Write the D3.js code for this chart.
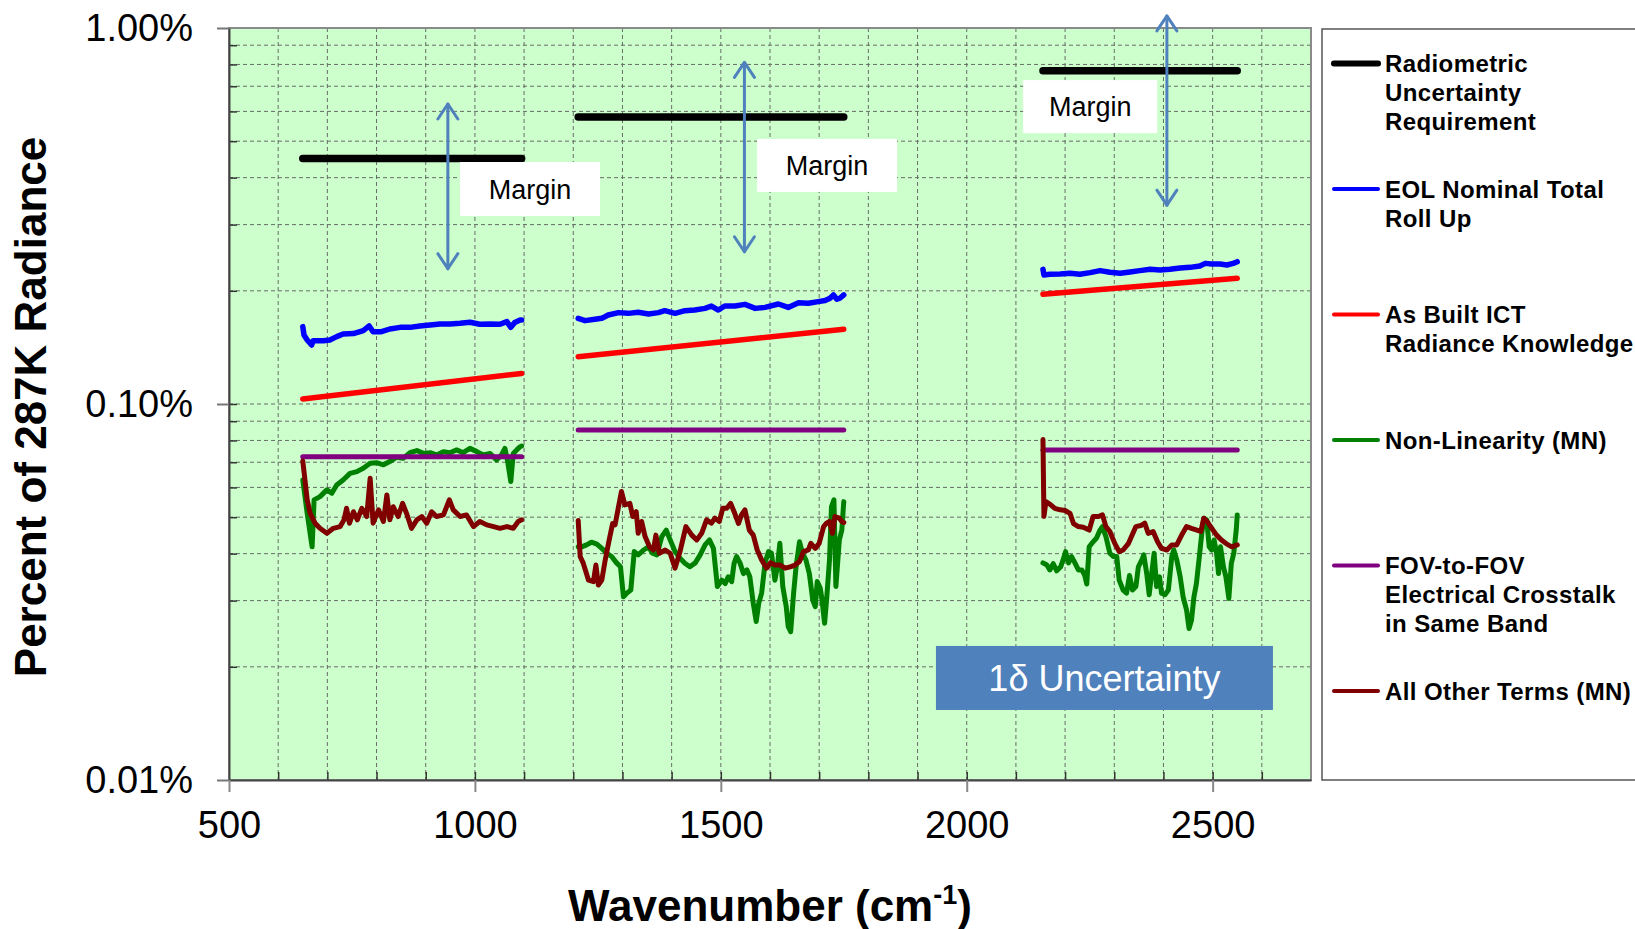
<!DOCTYPE html>
<html>
<head>
<meta charset="utf-8">
<script src="https://cdn.jsdelivr.net/npm/d3@7"></script>
<style>
  html, body { margin: 0; padding: 0; background: #fff; overflow: hidden; }
  svg { display: block; font-family: "Liberation Sans", Arial, Helvetica, sans-serif; }
</style>
</head>
<body>
<svg id="chart" width="1635" height="929"></svg>
<script>
// ---- Axis ticks ----
const xTickValues = [500, 1000, 1500, 2000, 2500];
const yTickValues = [0.01, 0.1, 1];
const yTickLabels = ["0.01%", "0.10%", "1.00%"];

// ---- Series (wavenumber cm-1, percent of 287K radiance), one segment per band ----
const requirement = [
  [[650, 0.45], [1095, 0.45]],
  [[1210, 0.58], [1750, 0.58]],
  [[2155, 0.77], [2550, 0.77]]
];

const rollUp = [
  [[650,0.1606],[652.5,0.1526],[659,0.1480],[668,0.1435],[671,0.1474],[692,0.1474],[705,0.1480],[719,0.1511],
   [732,0.1536],[753,0.1539],[773,0.1567],[785,0.1613],[793,0.1557],[810,0.1557],[827,0.1583],[848,0.1599],
   [868,0.1599],[888,0.1613],[909,0.1623],[929,0.1633],[949,0.1633],[970,0.1640],[990,0.1650],[1010,0.1630],
   [1031,0.1633],[1051,0.1630],[1065,0.1656],[1073,0.1599],[1081,0.1648],[1092,0.1673],[1095,0.1673]],
  [[1210,0.1690],[1224,0.1666],[1244,0.1680],[1258,0.1690],[1271,0.1725],[1292,0.1750],[1312,0.1742],[1332,0.1753],
   [1353,0.1736],[1373,0.1750],[1386,0.1771],[1407,0.1742],[1427,0.1771],[1447,0.1778],[1468,0.1796],[1481,0.1822],
   [1495,0.1778],[1508,0.1822],[1529,0.1822],[1549,0.1841],[1570,0.1796],[1590,0.1807],[1617,0.1845],[1637,0.1807],
   [1658,0.1860],[1678,0.1853],[1698,0.1872],[1712,0.1884],[1722,0.1911],[1729,0.1950],[1736,0.1899],[1742,0.1911],
   [1750,0.1950]],
  [[2155,0.2281],[2157,0.2204],[2169,0.2213],[2190,0.2218],[2210,0.2226],[2230,0.2213],[2251,0.2236],[2271,0.2263],
   [2291,0.2240],[2312,0.2226],[2332,0.2245],[2352,0.2263],[2373,0.2281],[2393,0.2272],[2413,0.2281],[2434,0.2300],
   [2454,0.2309],[2474,0.2328],[2485,0.2366],[2498,0.2357],[2515,0.2357],[2529,0.2343],[2542,0.2366],[2550,0.2390]]
];

const ictKnowledge = [
  [[650, 0.1031], [1095, 0.1206]],
  [[1210, 0.1335], [1750, 0.1580]],
  [[2155, 0.1957], [2550, 0.2159]]
];

const nonLinearity = [
  [[650,0.0628],[659,0.0512],[669,0.0417],[673,0.0556],[685,0.0567],[699,0.0591],[709,0.0579],[719,0.0609],
   [732,0.0628],[746,0.0654],[760,0.0661],[773,0.0675],[787,0.0696],[800,0.0698],[814,0.0689],[827,0.0703],
   [841,0.0722],[854,0.0717],[868,0.0742],[882,0.0752],[895,0.0739],[909,0.0742],[922,0.0732],[936,0.0747],
   [949,0.0742],[963,0.0755],[976,0.0742],[990,0.0762],[1004,0.0747],[1017,0.0732],[1031,0.0739],[1044,0.0710],
   [1054,0.0732],[1061,0.0762],[1066,0.0710],[1073,0.0622],[1078,0.0739],[1085,0.0755],[1092,0.0770],[1095,0.0773]],
  [[1210,0.0417],[1217,0.0417],[1227,0.0422],[1237,0.0429],[1248,0.0424],[1258,0.0413],[1268,0.0401],[1278,0.0393],
   [1288,0.0378],[1296,0.0369],[1302,0.0307],[1309,0.0314],[1317,0.0320],[1324,0.0405],[1332,0.0397],[1343,0.0409],
   [1353,0.0417],[1361,0.0401],[1370,0.0397],[1380,0.0444],[1389,0.0462],[1397,0.0435],[1407,0.0405],[1417,0.0389],
   [1427,0.0377],[1437,0.0369],[1448,0.0378],[1458,0.0397],[1468,0.0422],[1477,0.0435],[1485,0.0413],[1493,0.0327],
   [1502,0.0340],[1509,0.0333],[1515,0.0347],[1522,0.0337],[1527,0.0377],[1532,0.0393],[1539,0.0378],[1546,0.0354],
   [1553,0.0362],[1559,0.0347],[1566,0.0295],[1572,0.0264],[1577,0.0295],[1583,0.0314],[1590,0.0378],[1597,0.0405],
   [1603,0.0401],[1610,0.0340],[1615,0.0369],[1620,0.0426],[1626,0.0327],[1633,0.0289],[1637,0.0256],[1642,0.0248],
   [1648,0.0314],[1653,0.0369],[1660,0.0430],[1666,0.0401],[1673,0.0385],[1680,0.0354],[1687,0.0301],[1692,0.0289],
   [1696,0.0337],[1702,0.0324],[1705,0.0307],[1711,0.0261],[1715,0.0301],[1721,0.0385],[1725,0.0533],[1730,0.0556],
   [1734,0.0327],[1741,0.0435],[1746,0.0462],[1750,0.0550]],
  [[2155,0.0378],[2163,0.0373],[2169,0.0362],[2176,0.0376],[2183,0.0360],[2191,0.0369],[2196,0.0385],[2201,0.0405],
   [2207,0.0378],[2213,0.0393],[2220,0.0378],[2227,0.0362],[2234,0.0362],[2240,0.0350],[2244,0.0332],[2249,0.0417],
   [2257,0.0430],[2264,0.0440],[2271,0.0462],[2276,0.0472],[2283,0.0444],[2291,0.0401],[2298,0.0393],[2305,0.0393],
   [2310,0.0340],[2318,0.0320],[2325,0.0314],[2331,0.0350],[2337,0.0320],[2344,0.0327],[2349,0.0369],[2356,0.0385],
   [2360,0.0397],[2366,0.0354],[2371,0.0311],[2376,0.0354],[2381,0.0401],[2386,0.0327],[2392,0.0347],[2396,0.0314],
   [2403,0.0311],[2410,0.0320],[2417,0.0393],[2421,0.0409],[2427,0.0385],[2434,0.0347],[2440,0.0307],[2447,0.0283],
   [2452,0.0253],[2457,0.0266],[2462,0.0307],[2467,0.0333],[2473,0.0393],[2478,0.0453],[2482,0.0497],[2488,0.0492],
   [2493,0.0417],[2498,0.0409],[2503,0.0435],[2508,0.0401],[2512,0.0354],[2516,0.0417],[2522,0.0369],[2527,0.0347],
   [2533,0.0304],[2538,0.0377],[2543,0.0401],[2548,0.0462],[2550,0.0507]]
];

const crosstalk = [
  [[650, 0.0724], [1095, 0.0724]],
  [[1210, 0.0853], [1750, 0.0853]],
  [[2155, 0.0755], [2550, 0.0755]]
];

const otherTerms = [
  [[650,0.0705],[654.5,0.0628],[659,0.0556],[665,0.0512],[675,0.0482],[685,0.0467],[699,0.0453],[712,0.0467],
   [726,0.0472],[734,0.0492],[739,0.0528],[745,0.0482],[753,0.0517],[761,0.0492],[770,0.0528],[780,0.0502],
   [787,0.0635],[793,0.0482],[804,0.0523],[814,0.0487],[821,0.0573],[827,0.0492],[834,0.0533],[844,0.0502],
   [853,0.0544],[861,0.0512],[871,0.0467],[882,0.0492],[892,0.0502],[902,0.0482],[912,0.0517],[922,0.0502],
   [936,0.0507],[948,0.0556],[956,0.0523],[970,0.0502],[983,0.0507],[997,0.0472],[1010,0.0487],[1024,0.0477],
   [1038,0.0472],[1051,0.0467],[1065,0.0472],[1078,0.0467],[1088,0.0487],[1095,0.0492]],
  [[1210,0.0490],[1214,0.0393],[1220,0.0378],[1231,0.0340],[1241,0.0337],[1246,0.0373],[1251,0.0330],[1258,0.0340],
   [1265,0.0385],[1273,0.0435],[1280,0.0481],[1285,0.0477],[1292,0.0533],[1298,0.0585],[1305,0.0539],[1315,0.0544],
   [1321,0.0502],[1328,0.0517],[1332,0.0453],[1339,0.0487],[1346,0.0444],[1355,0.0417],[1363,0.0409],[1368,0.0448],
   [1375,0.0401],[1387,0.0409],[1397,0.0401],[1407,0.0366],[1417,0.0405],[1429,0.0472],[1441,0.0448],[1451,0.0435],
   [1461,0.0453],[1471,0.0492],[1481,0.0482],[1488,0.0497],[1497,0.0487],[1504,0.0528],[1512,0.0528],[1520,0.0544],
   [1527,0.0517],[1536,0.0481],[1542,0.0507],[1549,0.0523],[1558,0.0462],[1566,0.0448],[1574,0.0409],[1583,0.0385],
   [1593,0.0366],[1601,0.0378],[1610,0.0373],[1620,0.0373],[1631,0.0366],[1641,0.0369],[1651,0.0373],[1660,0.0381],
   [1668,0.0405],[1678,0.0409],[1683,0.0426],[1692,0.0413],[1700,0.0426],[1709,0.0472],[1715,0.0482],[1721,0.0487],
   [1727,0.0453],[1732,0.0502],[1741,0.0497],[1746,0.0487],[1750,0.0484]],
  [[2155,0.0805],[2157,0.0502],[2161,0.0550],[2169,0.0542],[2179,0.0528],[2190,0.0523],[2200,0.0521],[2210,0.0512],
   [2217,0.0481],[2227,0.0472],[2237,0.0470],[2249,0.0462],[2257,0.0502],[2268,0.0502],[2276,0.0507],[2283,0.0472],
   [2291,0.0458],[2301,0.0426],[2310,0.0405],[2318,0.0409],[2329,0.0426],[2335,0.0444],[2344,0.0472],[2354,0.0475],
   [2362,0.0482],[2369,0.0453],[2379,0.0458],[2388,0.0430],[2396,0.0413],[2407,0.0409],[2417,0.0422],[2427,0.0422],
   [2437,0.0448],[2447,0.0472],[2457,0.0467],[2468,0.0462],[2476,0.0458],[2482,0.0497],[2489,0.0487],[2498,0.0467],
   [2508,0.0448],[2518,0.0435],[2529,0.0424],[2539,0.0417],[2550,0.0422]]
];

// ---- Legend ----
const legendLabels = [
  ["Radiometric", "Uncertainty", "Requirement"],
  ["EOL Nominal Total", "Roll Up"],
  ["As Built ICT", "Radiance Knowledge"],
  ["Non-Linearity (MN)"],
  ["FOV-to-FOV", "Electrical Crosstalk", "in Same Band"],
  ["All Other Terms (MN)"]
];
const seriesColors = ["#000000", "#0000ff", "#ff0000", "#008000", "#800080", "#800000"];
const seriesWidths = [7.5, 5.5, 5.5, 5, 5, 5];
const seriesData = [requirement, rollUp, ictKnowledge, nonLinearity, crosstalk, otherTerms];

// ---- Margin annotations: double arrow span and label centre (wavenumber, percent) ----
const marginArrows = [
  { x: 945,  top: 0.628, bottom: 0.229 },
  { x: 1548, top: 0.81,  bottom: 0.254 },
  { x: 2407, top: 1.077, bottom: 0.338 }
];
const marginLabels = [
  { x: 1112, v: 0.373, w: 140, h: 54 },
  { x: 1716, v: 0.431, w: 140, h: 53 },
  { x: 2251, v: 0.618, w: 134, h: 53 }
];
const uncertaintyBox = { x: 2280, v: 0.01868, w: 337, h: 64, text: "1δ Uncertainty" };

// ---- Layout ----
const plot = { left: 229, right: 1311, top: 28, bottom: 780 };
const svg = d3.select("#chart");

const x = d3.scaleLinear().domain([500, 2700]).range([plot.left, plot.right]);
const y = d3.scaleLog().domain([0.01, 1]).range([plot.bottom, plot.top]);

// plot background
svg.append("rect")
  .attr("x", plot.left).attr("y", plot.top)
  .attr("width", plot.right - plot.left).attr("height", plot.bottom - plot.top)
  .attr("fill", "#ccffcc");

// grid
const xGrid = d3.range(600, 2700, 100);
const yGrid = [];
[0.01, 0.1].forEach(dec => { for (let k = 1; k <= 9; k++) if (!(dec === 0.01 && k === 1)) yGrid.push(dec * k); });

const grid = svg.append("g").attr("stroke", "#555").attr("stroke-width", 1)
  .attr("stroke-dasharray", "4,3").attr("opacity", 0.85);
grid.selectAll("line.v").data(xGrid).join("line").attr("class", "v")
  .attr("x1", d => x(d)).attr("x2", d => x(d))
  .attr("y1", plot.top).attr("y2", plot.bottom);
grid.selectAll("line.h").data(yGrid).join("line").attr("class", "h")
  .attr("x1", plot.left).attr("x2", plot.right)
  .attr("y1", d => y(d)).attr("y2", d => y(d));

// plot frame
svg.append("rect")
  .attr("x", plot.left).attr("y", plot.top)
  .attr("width", plot.right - plot.left).attr("height", plot.bottom - plot.top)
  .attr("fill", "none").attr("stroke", "#8a8a8a").attr("stroke-width", 2);

// minor ticks inside the plot
const yMinorAxis = d3.axisRight(y).tickValues(yGrid).tickSize(8).tickFormat("");
svg.append("g").attr("transform", `translate(${plot.left},0)`).call(yMinorAxis)
  .call(g => g.select(".domain").remove())
  .selectAll("line").attr("stroke", "#333").attr("stroke-width", 1.5);
const xMinorAxis = d3.axisTop(x).tickValues(xGrid).tickSize(8).tickFormat("");
svg.append("g").attr("transform", `translate(0,${plot.bottom})`).call(xMinorAxis)
  .call(g => g.select(".domain").remove())
  .selectAll("line").attr("stroke", "#333").attr("stroke-width", 1.5);

// main axes
const yAxis = d3.axisLeft(y).tickValues(yTickValues)
  .tickFormat((d, i) => yTickLabels[i]).tickSizeInner(12).tickSizeOuter(0).tickPadding(24);
const yAxisG = svg.append("g").attr("transform", `translate(${plot.left},0)`).call(yAxis);
yAxisG.select(".domain").attr("stroke", "#444").attr("stroke-width", 2);
yAxisG.selectAll(".tick line").attr("stroke", "#777").attr("stroke-width", 2);
yAxisG.selectAll(".tick text").attr("font-size", 38).attr("fill", "#000")
  .attr("font-family", "'Liberation Sans', Arial, sans-serif");

const xAxis = d3.axisBottom(x).tickValues(xTickValues).tickFormat(d3.format("d"))
  .tickSizeInner(12).tickSizeOuter(0).tickPadding(19);
const xAxisG = svg.append("g").attr("transform", `translate(0,${plot.bottom})`).call(xAxis);
xAxisG.select(".domain").attr("stroke", "#444").attr("stroke-width", 2);
xAxisG.selectAll(".tick line").attr("stroke", "#888").attr("stroke-width", 2);
xAxisG.selectAll(".tick text").attr("font-size", 38).attr("fill", "#000")
  .attr("font-family", "'Liberation Sans', Arial, sans-serif");

// series
const line = d3.line().x(d => x(d[0])).y(d => y(d[1]));
seriesData.forEach((segments, si) => {
  svg.append("g").selectAll("path").data(segments).join("path")
    .attr("d", line)
    .attr("fill", "none")
    .attr("stroke", seriesColors[si])
    .attr("stroke-width", seriesWidths[si])
    .attr("stroke-linejoin", "round")
    .attr("stroke-linecap", "round");
});

// margin arrows
const arrowColor = "#4f81bd";
const arrows = svg.append("g").attr("stroke", arrowColor).attr("stroke-width", 3)
  .attr("fill", "none").attr("stroke-linecap", "round").attr("stroke-linejoin", "round");
marginArrows.forEach(a => {
  const ax = x(a.x), y1 = y(a.top), y2 = y(a.bottom);
  arrows.append("line").attr("x1", ax).attr("x2", ax).attr("y1", y1).attr("y2", y2);
  arrows.append("path").attr("d", `M${ax - 10},${y1 + 15} L${ax},${y1} L${ax + 10},${y1 + 15}`);
  arrows.append("path").attr("d", `M${ax - 10},${y2 - 15} L${ax},${y2} L${ax + 10},${y2 - 15}`);
});

// margin labels
marginLabels.forEach(m => {
  const cx = x(m.x), cy = y(m.v);
  svg.append("rect").attr("x", cx - m.w / 2).attr("y", cy - m.h / 2)
    .attr("width", m.w).attr("height", m.h).attr("fill", "#fff");
  svg.append("text").attr("x", cx).attr("y", cy).attr("dy", "0.36em")
    .attr("text-anchor", "middle").attr("font-size", 27).attr("fill", "#000")
    .text("Margin");
});

// uncertainty box
{
  const cx = x(uncertaintyBox.x), cy = y(uncertaintyBox.v);
  svg.append("rect").attr("x", cx - uncertaintyBox.w / 2).attr("y", cy - uncertaintyBox.h / 2)
    .attr("width", uncertaintyBox.w).attr("height", uncertaintyBox.h).attr("fill", "#4f81bd");
  svg.append("text").attr("x", cx).attr("y", cy).attr("dy", "0.36em")
    .attr("text-anchor", "middle").attr("font-size", 36).attr("fill", "#fff")
    .text(uncertaintyBox.text);
}

// legend
const legend = svg.append("g");
legend.append("rect").attr("x", 1322).attr("y", 29).attr("width", 330).attr("height", 751)
  .attr("fill", "#fff").attr("stroke", "#555").attr("stroke-width", 1.5);
legendLabels.forEach((lines, i) => {
  const ly = 63.6 + 125.5 * i;
  legend.append("line").attr("x1", 1334).attr("x2", 1378).attr("y1", ly).attr("y2", ly)
    .attr("stroke", seriesColors[i]).attr("stroke-width", i === 0 ? 6 : 4).attr("stroke-linecap", "round");
  const t = legend.append("text").attr("x", 1385).attr("y", ly)
    .attr("font-size", 24).attr("font-weight", "bold").attr("fill", "#000")
    .attr("letter-spacing", 0.4);
  lines.forEach((s, j) => t.append("tspan").attr("x", 1385).attr("dy", j === 0 ? "0.36em" : "1.21em").text(s));
});

// axis titles
svg.append("text")
  .attr("transform", "translate(46,407) rotate(-90)")
  .attr("text-anchor", "middle").attr("font-size", 44).attr("font-weight", "bold").attr("fill", "#000")
  .text("Percent of 287K Radiance");

const xt = svg.append("text").attr("x", 770).attr("y", 921)
  .attr("text-anchor", "middle").attr("font-size", 44).attr("font-weight", "bold").attr("fill", "#000");
xt.append("tspan").text("Wavenumber (cm");
xt.append("tspan").attr("font-size", 27).attr("dy", -17).text("-1");
xt.append("tspan").attr("dy", 17).text(")");
</script>
</body>
</html>
